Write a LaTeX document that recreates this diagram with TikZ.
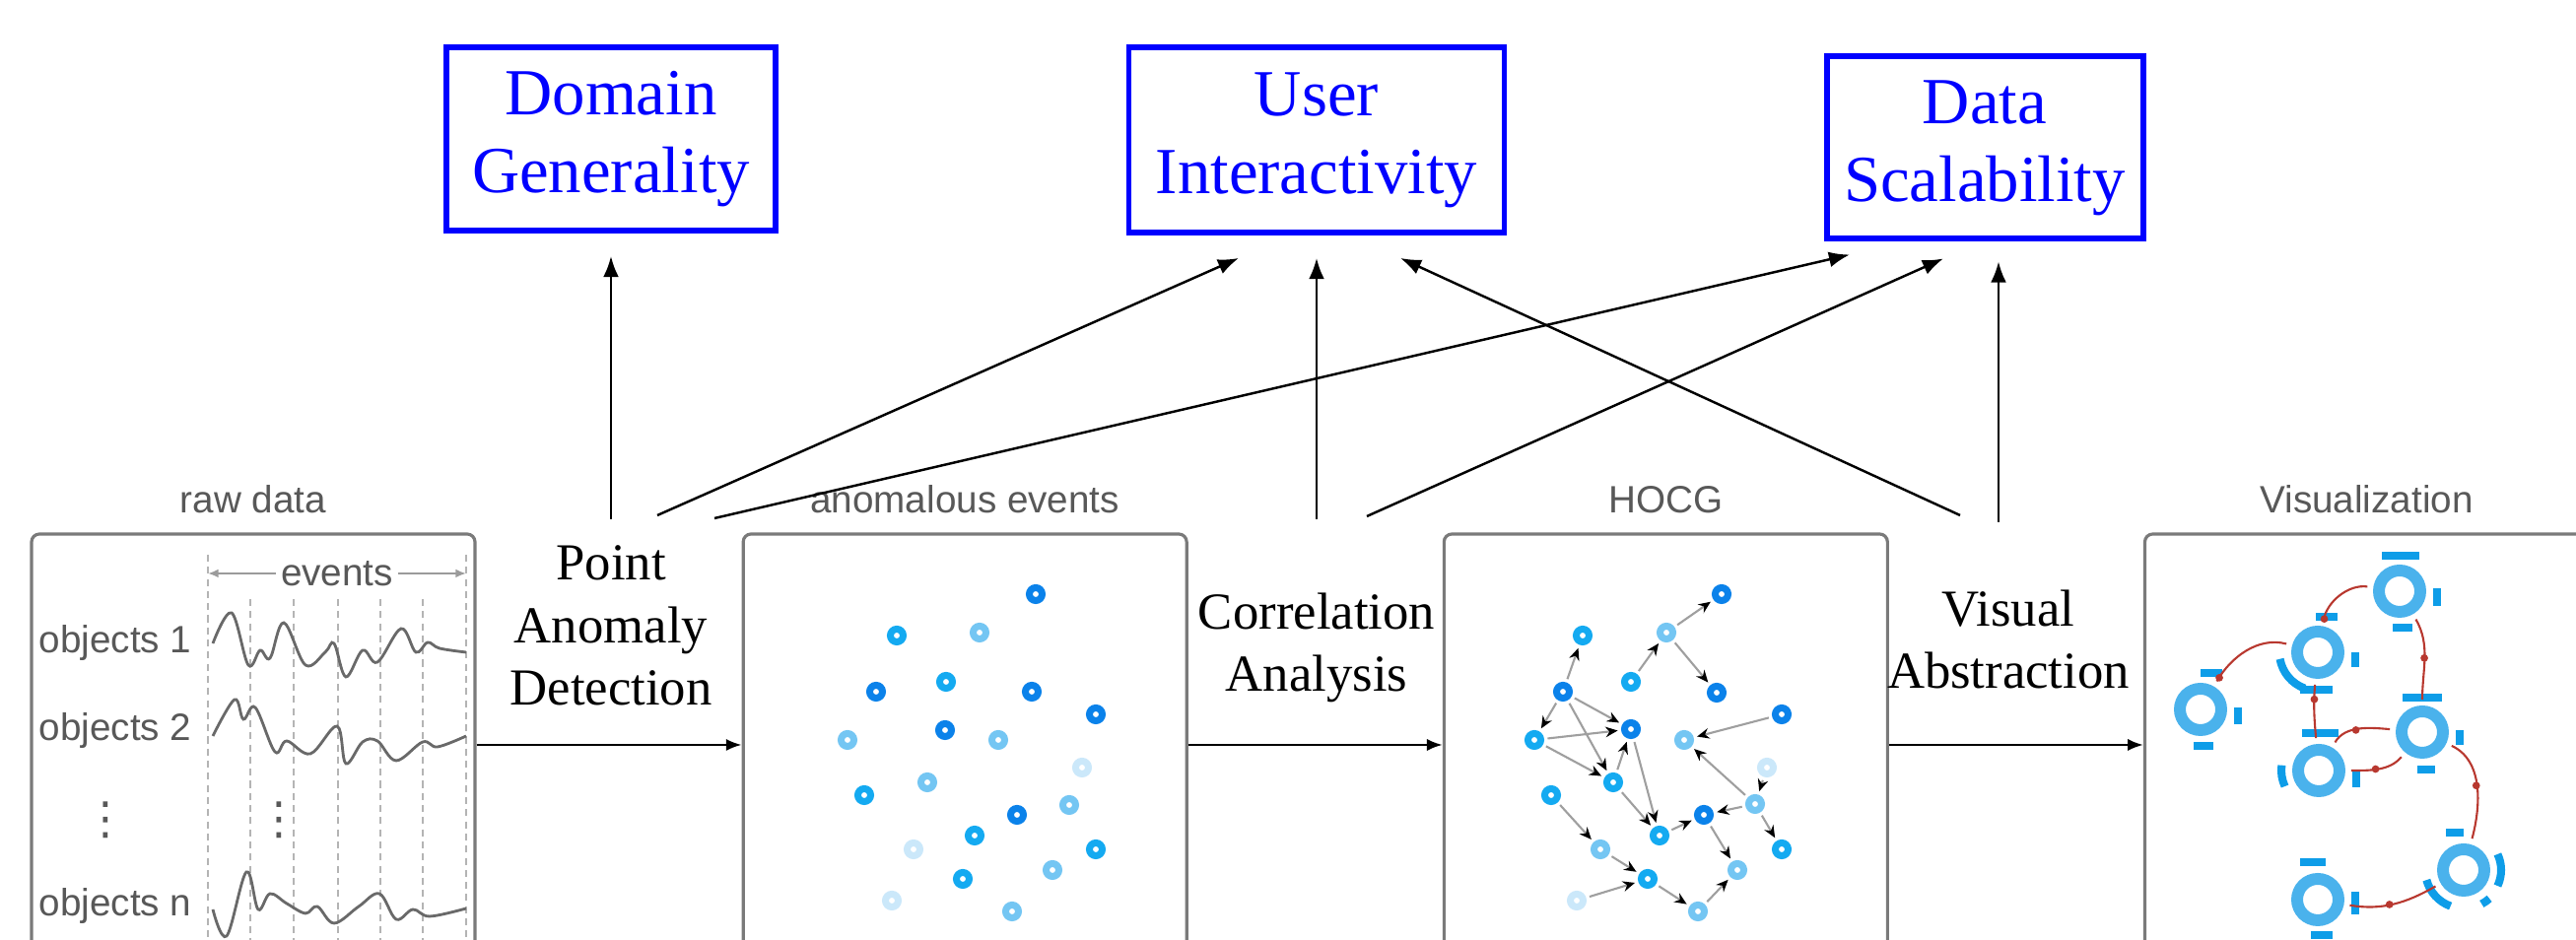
\documentclass[tikz,border=0pt]{standalone}
\usepackage{fontspec}
\setmainfont{Liberation Serif}
\newfontfamily\panelfont{Liberation Sans}
\newfontfamily\dotsfont{DejaVu Sans}
\usetikzlibrary{arrows.meta,positioning}

\definecolor{dkblue}{HTML}{0B82EA}
\definecolor{mdblue}{HTML}{14AAF1}
\definecolor{ltblue}{HTML}{74C6F3}
\definecolor{plblue}{HTML}{CBE8FA}
\definecolor{ringblue}{HTML}{4AB2EC}
\definecolor{tabblue}{HTML}{0E9DE8}
\definecolor{linkred}{HTML}{B8382F}
\definecolor{framegray}{HTML}{7A7A7A}
\definecolor{labelgray}{HTML}{585858}

\begin{document}
\begin{tikzpicture}[
  goal/.style={draw=blue,line width=1.7pt,text=blue,align=center,inner sep=0pt,
    font=\fontsize{19}{22.5}\selectfont},
  stage/.style={align=center,anchor=base,font=\fontsize{15}{18.2}\selectfont},
  panel/.style={draw=framegray,line width=0.9pt,rounded corners=0.08cm,
    minimum width=4.5cm,minimum height=4.28cm},
  ptitle/.style={font=\panelfont\fontsize{11}{13}\selectfont,text=labelgray},
  gtext/.style={font=\panelfont\fontsize{11}{13}\selectfont,text=labelgray,
    anchor=base west,inner sep=0pt},
  up/.style={-{Latex[length=6pt,width=4.5pt]},line width=0.7pt},
  flow/.style={-{Latex[length=4.5pt,width=3.5pt]},line width=0.7pt},
  evgrid/.style={labelgray!45,line width=0.5pt,dash pattern=on 2pt off 1.5pt},
  evarrow/.style={{Latex[length=3pt,width=2.5pt]}-{Latex[length=3pt,width=2.5pt]},
    labelgray!60,line width=0.6pt},
  wave/.style={labelgray!90,line width=0.8pt},
  ev/.style={circle,draw,line width=2pt,minimum size=0.13cm,inner sep=0pt},
  dk/.style={draw=dkblue}, md/.style={draw=mdblue},
  lt/.style={draw=ltblue}, pl/.style={draw=plblue},
  link/.style={draw=gray!75,line width=0.6pt,shorten >=1pt,shorten <=1pt,
    -{Stealth[length=3.5pt,width=3pt,color=black]}},
  ring/.style={circle,draw=ringblue,line width=3.4pt,minimum size=0.42cm,inner sep=0pt},
  tab/.style={draw=tabblue,line width=2.3pt},
  rlink/.style={draw=linkred,line width=0.6pt,shorten >=0.06cm,shorten <=0.06cm},
  rdot/.style={circle,fill=linkred,inner sep=0pt,minimum size=2.2pt}]

\useasboundingbox (0,0) rectangle (26.14,9.54);

\node[goal,minimum width=3.34cm,minimum height=1.86cm] (dom) at (6.20,8.13) {Domain\\Generality};
\node[goal,minimum width=3.81cm,minimum height=1.88cm] (usr) at (13.36,8.12) {User\\Interactivity};
\node[goal,minimum width=3.21cm,minimum height=1.85cm] (dat) at (20.14,8.04) {Data\\Scalability};

\node[panel] (raw) at (2.57,1.98) {};
\node[panel,right=2.69cm of raw] (ae) {};
\node[panel,right=2.58cm of ae] (hg) {};
\node[panel,right=2.58cm of hg] (vis) {};

\node[ptitle,above=0.07cm of raw] (rawt) {raw data};
\node[ptitle,above=0.07cm of ae] (aet) {anomalous events};
\node[ptitle,above=0.07cm of hg] (hgt) {HOCG};
\node[ptitle,above=0.07cm of vis] (vist) {Visualization};

\node[stage] (pad) at (6.20,2.38) {Point\\Anomaly\\Detection};
\node[stage] (ca) at (13.36,2.52) {Correlation\\Analysis};
\node[stage] (va) at (20.38,2.55) {Visual\\Abstraction};

\draw[flow] (raw) -- (ae);
\draw[flow] (ae) -- (hg);
\draw[flow] (hg) -- (vis);

\coordinate (pad1) at (6.20,4.27);
\coordinate (pad2) at (6.67,4.31);
\coordinate (pad3) at (7.25,4.28);
\coordinate (ca1) at (13.36,4.27);
\coordinate (ca2) at (13.87,4.30);
\coordinate (va1) at (19.89,4.31);
\coordinate (va2) at (20.28,4.24);

\draw[up] (pad1) -- ([yshift=-0.23cm]dom.south);
\draw[up] (pad2) -- ([xshift=-0.79cm,yshift=-0.23cm]usr.south);
\draw[up] (pad3) -- ([xshift=-1.37cm,yshift=-0.13cm]dat.south);
\draw[up] (ca1) -- ([yshift=-0.23cm]usr.south);
\draw[up] (ca2) -- ([xshift=-0.42cm,yshift=-0.17cm]dat.south);
\draw[up] (va1) -- ([xshift=0.85cm,yshift=-0.23cm]usr.south);
\draw[up] (va2) -- ([xshift=0.14cm,yshift=-0.20cm]dat.south);

\draw[evgrid] (2.11,3.91) -- (2.11,-0.2);
\draw[evgrid] (4.73,3.91) -- (4.73,-0.2);
\draw[evgrid] (2.54,3.46) -- (2.54,-0.2);
\draw[evgrid] (2.98,3.46) -- (2.98,-0.2);
\draw[evgrid] (3.43,3.46) -- (3.43,-0.2);
\draw[evgrid] (3.86,3.46) -- (3.86,-0.2);
\draw[evgrid] (4.29,3.46) -- (4.29,-0.2);
\draw[evarrow] (2.11,3.72) -- (4.73,3.72);
\node[ptitle,fill=white,inner sep=1.5pt] (evt) at (3.42,3.72) {events};

\node[gtext] (ob1) at (0.39,2.91) {objects 1};
\node[gtext] (ob2) at (0.39,2.02) {objects 2};
\node[gtext] (obn) at (0.39,0.24) {objects n};
\node[text=labelgray,font=\dotsfont\fontsize{13}{15}\selectfont,inner sep=0pt] (vd1) at (1.07,1.22) {⋮};
\node[text=labelgray,font=\dotsfont\fontsize{13}{15}\selectfont,inner sep=0pt] (vd2) at (2.83,1.22) {⋮};

\draw[wave] plot[smooth,tension=0.6] coordinates {(2.16,3.01) (2.35,3.32) (2.52,2.79)
  (2.64,2.94) (2.74,2.86) (2.88,3.22) (3.10,2.79) (3.30,2.92) (3.39,3.01) (3.51,2.67)
  (3.68,2.94) (3.83,2.82) (4.07,3.16) (4.22,2.92) (4.34,3.02) (4.46,2.96) (4.73,2.92)};
\draw[wave] plot[smooth,tension=0.6] coordinates {(2.16,2.07) (2.38,2.44) (2.47,2.24)
  (2.59,2.36) (2.79,1.91) (2.91,2.02) (3.15,1.89) (3.42,2.17) (3.51,1.79) (3.68,2.01)
  (3.83,2.02) (4.02,1.82) (4.29,2.01) (4.44,1.96) (4.73,2.07)};
\draw[wave] plot[smooth,tension=0.6] coordinates {(2.16,0.31) (2.30,0.04) (2.50,0.69)
  (2.62,0.31) (2.74,0.47) (2.91,0.37) (3.10,0.27) (3.22,0.34) (3.39,0.17) (3.64,0.34)
  (3.85,0.47) (4.02,0.21) (4.19,0.31) (4.36,0.24) (4.73,0.32)};

\node[ev,dk] (a1) at (10.51,3.51) {};
\node[ev,md] (a2) at (9.10,3.09) {};
\node[ev,lt] (a3) at (9.94,3.12) {};
\node[ev,md] (a4) at (9.60,2.62) {};
\node[ev,dk] (a5) at (8.89,2.52) {};
\node[ev,dk] (a6) at (10.47,2.52) {};
\node[ev,dk] (a7) at (11.12,2.29) {};
\node[ev,dk] (a8) at (9.59,2.13) {};
\node[ev,lt] (a9) at (8.60,2.03) {};
\node[ev,lt] (a10) at (10.13,2.03) {};
\node[ev,pl] (a11) at (10.98,1.75) {};
\node[ev,lt] (a12) at (9.41,1.60) {};
\node[ev,md] (a13) at (8.77,1.47) {};
\node[ev,lt] (a14) at (10.85,1.37) {};
\node[ev,dk] (a15) at (10.32,1.27) {};
\node[ev,md] (a16) at (9.89,1.06) {};
\node[ev,pl] (a17) at (9.27,0.92) {};
\node[ev,md] (a18) at (11.12,0.92) {};
\node[ev,lt] (a19) at (10.68,0.71) {};
\node[ev,md] (a20) at (9.77,0.62) {};
\node[ev,pl] (a21) at (9.05,0.40) {};
\node[ev,lt] (a22) at (10.27,0.29) {};

\node[ev,dk] (g1) at (17.47,3.51) {};
\node[ev,lt] (g2) at (16.91,3.12) {};
\node[ev,md] (g3) at (16.06,3.09) {};
\node[ev,md] (g4) at (16.55,2.62) {};
\node[ev,dk] (g5) at (15.86,2.52) {};
\node[ev,dk] (g6) at (17.42,2.51) {};
\node[ev,dk] (g7) at (18.08,2.29) {};
\node[ev,dk] (g8) at (16.55,2.14) {};
\node[ev,md] (g9) at (15.57,2.03) {};
\node[ev,lt] (g10) at (17.09,2.03) {};
\node[ev,pl] (g11) at (17.93,1.75) {};
\node[ev,md] (g12) at (16.37,1.60) {};
\node[ev,md] (g13) at (15.74,1.47) {};
\node[ev,lt] (g14) at (17.81,1.38) {};
\node[ev,dk] (g15) at (17.29,1.27) {};
\node[ev,md] (g16) at (16.84,1.06) {};
\node[ev,lt] (g17) at (16.24,0.92) {};
\node[ev,md] (g18) at (18.08,0.92) {};
\node[ev,lt] (g19) at (17.63,0.71) {};
\node[ev,md] (g20) at (16.72,0.62) {};
\node[ev,pl] (g21) at (16.00,0.40) {};
\node[ev,lt] (g22) at (17.23,0.29) {};

\path[link] (g2) edge (g1) edge (g6) (g4) edge (g2) (g5) edge (g3) edge (g9) edge (g8) edge (g12)
  (g9) edge (g8) edge (g12) (g12) edge (g8) edge (g16) (g8) edge (g16) (g7) edge (g10)
  (g14) edge (g10) edge (g15) edge (g18) (g11) edge (g14) (g16) edge (g15)
  (g13) edge (g17) (g17) edge (g20) (g21) edge (g20) (g20) edge (g22) (g22) edge (g19)
  (g15) edge (g19);

\node[ring] (v1) at (24.35,3.54) {};
\node[ring] (v2) at (23.52,2.92) {};
\node[ring] (v3) at (22.33,2.34) {};
\node[ring] (v4) at (23.53,1.72) {};
\node[ring] (v5) at (24.58,2.11) {};
\node[ring] (v6) at (25.00,0.71) {};
\node[ring] (v7) at (23.52,0.41) {};

\draw[tab] ([shift={(-0.18,0.36)}]v1.center) -- ++(0.38,0);
\draw[tab] ([shift={(0.38,0.03)}]v1.center) -- ++(0,-0.18);
\draw[tab] ([shift={(-0.07,-0.37)}]v1.center) -- ++(0.20,0);
\draw[tab] ([shift={(-0.02,0.36)}]v2.center) -- ++(0.22,0);
\draw[tab] ([shift={(0.38,0)}]v2.center) -- ++(0,-0.15);
\draw[tab] ([shift={(-0.18,-0.38)}]v2.center) -- ++(0.33,0);
\draw[tab] ([shift={(190:0.39)}]v2.center) arc[start angle=190,end angle=250,radius=0.39];
\draw[tab] ([shift={(0,0.37)}]v3.center) -- ++(0.22,0);
\draw[tab] ([shift={(0.38,0.02)}]v3.center) -- ++(0,-0.17);
\draw[tab] ([shift={(-0.07,-0.37)}]v3.center) -- ++(0.20,0);
\draw[tab] ([shift={(-0.17,0.38)}]v4.center) -- ++(0.37,0);
\draw[tab] ([shift={(0.38,0)}]v4.center) -- ++(0,-0.17);
\draw[tab] ([shift={(172:0.38)}]v4.center) arc[start angle=172,end angle=205,radius=0.38];
\draw[tab] ([shift={(-0.20,0.35)}]v5.center) -- ++(0.40,0);
\draw[tab] ([shift={(0.38,0.02)}]v5.center) -- ++(0,-0.15);
\draw[tab] ([shift={(-0.05,-0.38)}]v5.center) -- ++(0.18,0);
\draw[tab] ([shift={(-0.18,0.38)}]v6.center) -- ++(0.18,0);
\draw[tab] ([shift={(-25:0.38)}]v6.center) arc[start angle=-25,end angle=25,radius=0.38];
\draw[tab] ([shift={(195:0.39)}]v6.center) arc[start angle=195,end angle=250,radius=0.39];
\draw[tab] ([shift={(-62:0.39)}]v6.center) arc[start angle=-62,end angle=-48,radius=0.39];
\draw[tab] ([shift={(-0.18,0.38)}]v7.center) -- ++(0.26,0);
\draw[tab] ([shift={(0.38,0.08)}]v7.center) -- ++(0,-0.23);
\draw[tab] ([shift={(-0.07,-0.36)}]v7.center) -- ++(0.22,0);

\draw[rlink] (v1) to[out=172,in=80] node[rdot,pos=0.9] (m1) {} (v2);
\draw[rlink] (v2) to[out=165,in=60] node[rdot,pos=0.9] (m2) {} (v3);
\draw[rlink] (v1) to[out=-60,in=90] node[rdot,pos=0.5] (m3) {} (v5);
\draw[rlink] (v2) to[out=-95,in=95] node[rdot,pos=0.3] (m4) {} (v4);
\draw[rlink] (v4) to[out=60,in=175] node[rdot,pos=0.45] (m5) {} (v5);
\draw[rlink] (v5) to[out=-130,in=0] node[rdot,pos=0.55] (m6) {} (v4);
\draw[rlink] (v5) to[out=-25,in=75] node[rdot,pos=0.5] (m7) {} (v6);
\draw[rlink] (v6) to[out=-150,in=-10] node[rdot,pos=0.55] (m8) {} (v7);

\end{tikzpicture}
\end{document}
